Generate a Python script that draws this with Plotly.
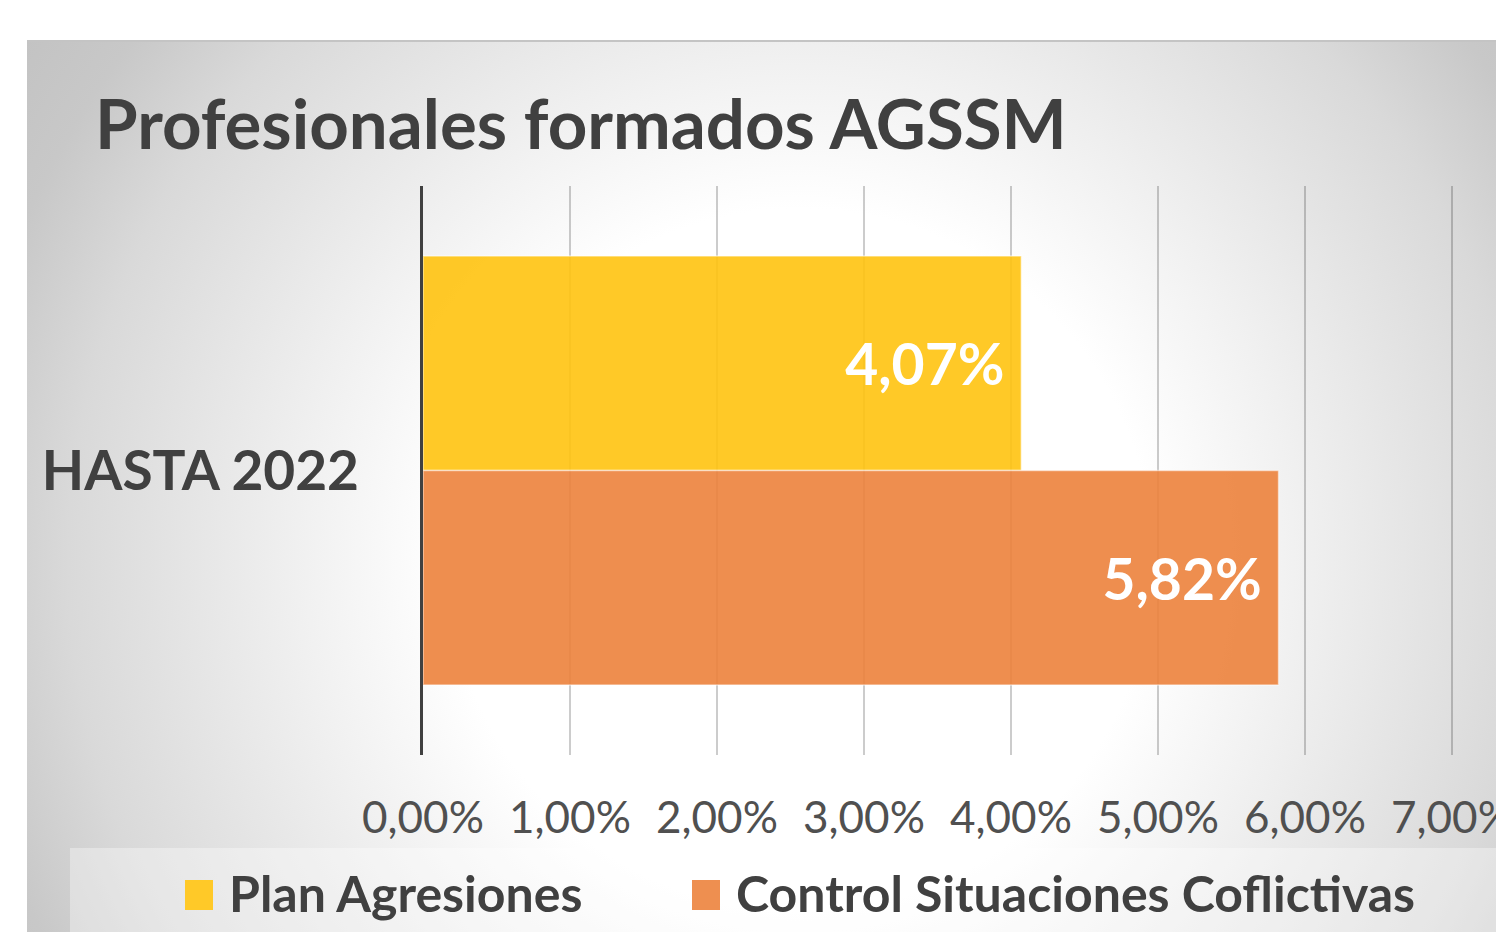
import base64
import plotly.graph_objects as go

# ---------------- data ----------------
categories = ["HASTA 2022"]
series_names = ["Plan Agresiones", "Control Situaciones Coflictivas"]
plan_agresiones = [0.0407]
control_situaciones = [0.0582]
x_tickvals = [0.00, 0.01, 0.02, 0.03, 0.04, 0.05, 0.06, 0.07]
title_text = "Profesionales formados AGSSM"

# ---------------- style ----------------
bar_colors = ["rgba(255,195,16,0.9)", "rgba(236,130,60,0.9)"]
legend_colors = ["#FFC928", "#EE8F50"]
FONT = "Lato"
DARK = "#404040"

OFF = 8  # page body margin
W, H = 1504, 932 - OFF
X0_PAGE, X7_PAGE, XR_PAGE = 423, 1452, 1456   # 0 %, 7 % and plot right edge on the page
L = X0_PAGE - OFF
R = W - (XR_PAGE - OFF)
T = 186 - OFF
B = H - (755 - OFF)
PW = W - L - R
PH = H - T - B
x_max = 0.07 * (XR_PAGE - X0_PAGE) / (X7_PAGE - X0_PAGE)


def px(x):
    """reference page x -> paper fraction"""
    return (x - OFF - L) / PW


def py(y):
    """reference page y -> paper fraction"""
    return (H - B - (y - OFF)) / PH


# radial gradient background panel
pw_, ph_ = 1512 - 27, 932 - 40
svg = (
    f'<svg xmlns="http://www.w3.org/2000/svg" width="{pw_}" height="{ph_}" '
    f'viewBox="0 0 {pw_} {ph_}" preserveAspectRatio="none">'
    '<defs><radialGradient id="g" gradientUnits="userSpaceOnUse" cx="773" cy="520" r="950">'
    '<stop offset="0" stop-color="#ffffff"/>'
    '<stop offset="0.37" stop-color="#ffffff"/>'
    '<stop offset="0.53" stop-color="#f0f0f0"/>'
    '<stop offset="0.77" stop-color="#d9d9d9"/>'
    '<stop offset="0.89" stop-color="#c8c8c8"/>'
    '<stop offset="1" stop-color="#c2c2c2"/>'
    '</radialGradient></defs>'
    f'<rect width="{pw_}" height="{ph_}" fill="url(#g)"/>'
    f'<rect width="{pw_}" height="2" fill="#c4c4c4"/>'
    '</svg>'
)
svg_uri = "data:image/svg+xml;base64," + base64.b64encode(svg.encode()).decode()

fig = go.Figure()
for name, vals, col in zip(series_names, [plan_agresiones, control_situaciones], bar_colors):
    fig.add_trace(go.Bar(
        name=name,
        y=categories,
        x=vals,
        orientation="h",
        marker=dict(color=col, line=dict(color="rgba(255,255,255,0.5)", width=1.5)),
        texttemplate="%{x:.2%}\u00a0",
        textposition="inside",
        insidetextanchor="end",
        textangle=0,
        insidetextfont=dict(family=FONT, size=57, color="white", weight="bold"),
        showlegend=False,
        hoverinfo="skip",
    ))

shapes = [
    dict(type="rect", xref="paper", yref="paper",
         x0=px(70), x1=px(1500), y0=py(848), y1=py(945),
         fillcolor="rgba(255,255,255,0.35)", line=dict(width=0), layer="above"),
]
annotations = []
legend_x = [185, 692]
for i, name in enumerate(series_names):
    x0 = legend_x[i]
    shapes.append(dict(type="rect", xref="paper", yref="paper",
                       x0=px(x0), x1=px(x0 + 28), y0=py(910), y1=py(880),
                       fillcolor=legend_colors[i], line=dict(width=0), layer="above"))
    annotations.append(dict(xref="paper", yref="paper", x=px(x0 + 42), y=py(893),
                            xanchor="left", yanchor="middle", showarrow=False,
                            text=name, font=dict(family=FONT, size=50, color=DARK, weight="bold")))

fig.update_layout(
    width=W, height=H,
    margin=dict(l=L, r=R, t=T, b=B, pad=0, autoexpand=False),
    paper_bgcolor="white",
    plot_bgcolor="rgba(0,0,0,0)",
    separators=",.",
    barmode="group",
    bargap=0.246,
    bargroupgap=0,
    title=dict(text=title_text, xref="container", yref="container",
               x=(95 - OFF) / W, xanchor="left", y=1 - (125 - OFF) / H, yanchor="middle",
               font=dict(family=FONT, size=69, color=DARK, weight="bold")),
    xaxis=dict(range=[0, x_max], tickvals=x_tickvals, tickformat=".2%",
               showgrid=True, gridcolor="rgba(0,0,0,0.2)", gridwidth=1.5,
               zeroline=False, showline=False, ticks="",
               automargin=False, ticklabeloverflow="allow",
               ticklabelstandoff=33,
               tickfont=dict(family=FONT, size=44, color="#505050")),
    yaxis=dict(type="category", autorange="reversed",
               showline=True, linecolor=DARK, linewidth=3,
               showgrid=False, zeroline=False, ticks="",
               automargin=False,
               ticklabelstandoff=50,
               tickfont=dict(family=FONT, size=55, color=DARK, weight="bold")),
    shapes=shapes,
    annotations=annotations,
    images=[dict(source=svg_uri, xref="paper", yref="paper",
                 x=px(27), y=py(40), sizex=(1512 - 27) / PW, sizey=(932 - 40) / PH,
                 xanchor="left", yanchor="top", sizing="stretch", layer="below")],
)

fig.write_html("out.html")
